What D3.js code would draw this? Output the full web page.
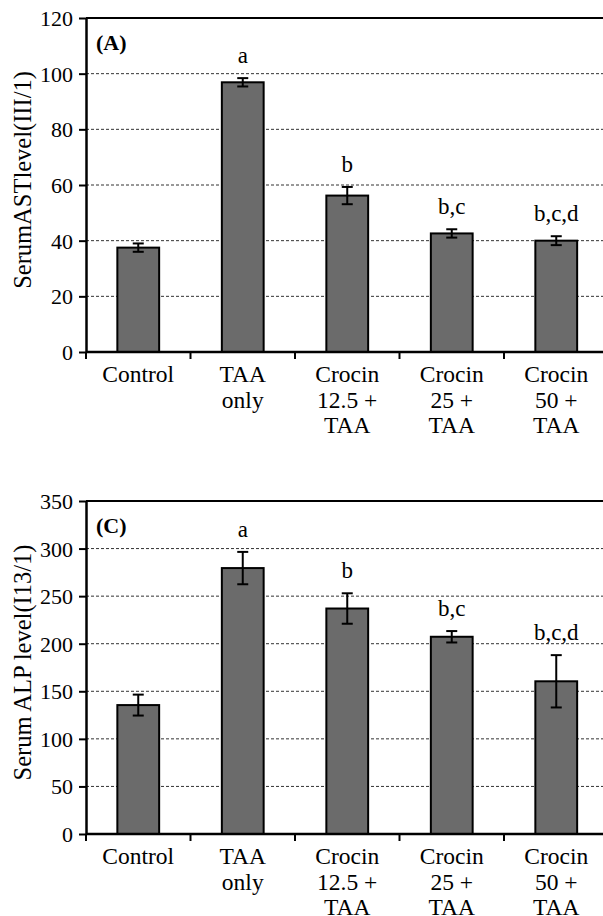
<!DOCTYPE html>
<html>
<head>
<meta charset="utf-8">
<script src="https://cdn.jsdelivr.net/npm/d3@7"></script>
<style>
  body { margin: 0; background: #fff; }
  svg { display: block; }
  svg text { font-family: "Liberation Serif", "Times New Roman", "DejaVu Serif", serif; }
</style>
</head>
<body>
<script>
// groups, shared by both panels
let groups = ["Control", "TAA only", "Crocin 12.5 + TAA", "Crocin 25 + TAA", "Crocin 50 + TAA"];
let groupLines = [["Control"], ["TAA", "only"], ["Crocin", "12.5 +", "TAA"], ["Crocin", "25 +", "TAA"], ["Crocin", "50 +", "TAA"]];

// panel A: AST
let astMean = [37.5, 96.9, 56.2, 42.6, 40.0];
let astErr = [1.5, 1.5, 3.1, 1.5, 1.6];
let astLetters = ["", "a", "b", "b,c", "b,c,d"];
let astTicks = [0, 20, 40, 60, 80, 100, 120];

// panel C: ALP
let alpMean = [135.5, 279.5, 237, 207.3, 160.5];
let alpErr = [11, 17, 16, 6, 27.5];
let alpLetters = ["", "a", "b", "b,c", "b,c,d"];
let alpTicks = [0, 50, 100, 150, 200, 250, 300, 350];

let width = 603, height = 916;
let svg = d3.select("body").append("svg")
    .attr("width", width)
    .attr("height", height);

function drawPanel(opt) {
    let x = d3.scaleBand()
        .domain(groups)
        .range([86, 608.5])
        .paddingInner(0.6)
        .paddingOuter(0.3);
    let y = d3.scaleLinear()
        .domain([0, opt.max])
        .range([opt.bottom, opt.top]);

    let g = svg.append("g");

    // dashed gridlines
    g.append("g")
        .selectAll("line")
        .data(opt.ticks.filter(t => t > 0 && t < opt.max))
        .enter().append("line")
        .attr("x1", 86).attr("x2", width)
        .attr("y1", d => y(d)).attr("y2", d => y(d))
        .attr("stroke", "#333")
        .attr("stroke-width", 1)
        .attr("stroke-dasharray", "3,2");

    // top border
    g.append("line")
        .attr("x1", 86).attr("x2", width)
        .attr("y1", y(opt.max)).attr("y2", y(opt.max))
        .attr("stroke", "#000")
        .attr("stroke-width", 2);

    // bars
    g.append("g")
        .selectAll("rect")
        .data(groups)
        .enter().append("rect")
        .attr("x", d => x(d))
        .attr("width", x.bandwidth())
        .attr("y", (d, i) => y(opt.mean[i]))
        .attr("height", (d, i) => y(0) - y(opt.mean[i]))
        .attr("fill", "#6b6b6b")
        .attr("stroke", "#000")
        .attr("stroke-width", 2);

    // error bars
    let eb = g.append("g")
        .attr("stroke", "#000")
        .attr("stroke-width", 2)
        .selectAll("g")
        .data(groups)
        .enter().append("g");
    let cx = d => x(d) + x.bandwidth() / 2;
    eb.append("line")
        .attr("x1", cx).attr("x2", cx)
        .attr("y1", (d, i) => y(opt.mean[i] + opt.err[i]))
        .attr("y2", (d, i) => y(opt.mean[i] - opt.err[i]));
    eb.append("line")
        .attr("x1", d => cx(d) - 5.5).attr("x2", d => cx(d) + 5.5)
        .attr("y1", (d, i) => y(opt.mean[i] + opt.err[i]))
        .attr("y2", (d, i) => y(opt.mean[i] + opt.err[i]));
    eb.append("line")
        .attr("x1", d => cx(d) - 5.5).attr("x2", d => cx(d) + 5.5)
        .attr("y1", (d, i) => y(opt.mean[i] - opt.err[i]))
        .attr("y2", (d, i) => y(opt.mean[i] - opt.err[i]));

    // significance letters
    g.append("g")
        .selectAll("text")
        .data(groups)
        .enter().append("text")
        .attr("x", cx)
        .attr("y", (d, i) => y(opt.mean[i] + opt.err[i]) - 15)
        .attr("text-anchor", "middle")
        .style("font-size", "23px")
        .text((d, i) => opt.letters[i]);

    // y axis
    let yAxis = g.append("g")
        .attr("transform", "translate(86,0)")
        .call(d3.axisLeft(y).tickValues(opt.ticks).tickSize(7).tickPadding(6).tickSizeOuter(0));
    yAxis.attr("font-family", null);
    yAxis.select(".domain").attr("stroke-width", 2.5);
    yAxis.selectAll(".tick line").attr("stroke-width", 2);
    yAxis.selectAll(".tick text")
        .attr("fill", "#000")
        .attr("dy", "0.34em")
        .style("font-size", "22px");

    // x axis: ticks at band boundaries
    let step = x.step();
    let bounds = groups.map((d, i) => x.range()[0] + i * step);
    g.append("line")
        .attr("x1", 86).attr("x2", width)
        .attr("y1", y(0)).attr("y2", y(0))
        .attr("stroke", "#000").attr("stroke-width", 2.5);
    g.append("g")
        .selectAll("line")
        .data(bounds)
        .enter().append("line")
        .attr("x1", d => d).attr("x2", d => d)
        .attr("y1", y(0)).attr("y2", y(0) + 7)
        .attr("stroke", "#000").attr("stroke-width", 2);

    // category labels
    let lab = g.append("g")
        .selectAll("text")
        .data(groups)
        .enter().append("text")
        .attr("text-anchor", "middle")
        .style("font-size", "23.5px");
    lab.selectAll("tspan")
        .data((d, i) => groupLines[i].map(s => ({ s: s, c: cx(d) })))
        .enter().append("tspan")
        .attr("x", d => d.c)
        .attr("y", (d, j) => y(0) + 30 + j * 25.5)
        .text(d => d.s);

    // panel label
    g.append("text")
        .attr("x", 96)
        .attr("y", y(opt.max) + 32)
        .style("font-size", "22px")
        .style("font-weight", "bold")
        .text(opt.panel);

    // y title
    g.append("text")
        .attr("transform", "translate(31," + ((opt.top + opt.bottom) / 2 - 5) + ") rotate(-90)")
        .attr("text-anchor", "middle")
        .style("font-size", "24.5px")
        .text(opt.title);
}

drawPanel({ top: 18, bottom: 352, max: 120, ticks: astTicks, mean: astMean, err: astErr,
    letters: astLetters, panel: "(A)", title: "SerumASTlevel(III/1)" });
drawPanel({ top: 501, bottom: 834, max: 350, ticks: alpTicks, mean: alpMean, err: alpErr,
    letters: alpLetters, panel: "(C)", title: "Serum ALP level(I13/1)" });
</script>
</body>
</html>
